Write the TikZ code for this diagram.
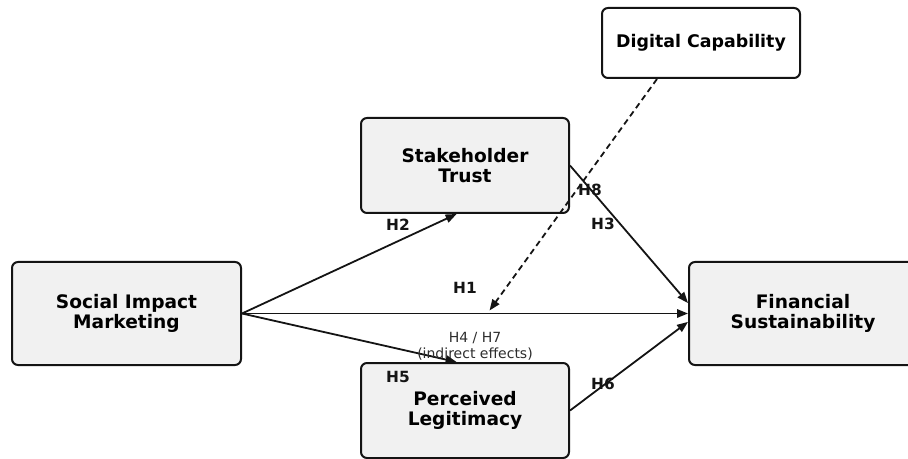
\documentclass[tikz,border=0pt]{standalone}
\usepackage{fontspec}
\setmainfont{DejaVu Sans}
\usetikzlibrary{arrows.meta,calc}
\definecolor{ModelInk}{RGB}{20,20,20}
\definecolor{ModelFill}{RGB}{241,241,241}
\definecolor{ModelNote}{RGB}{45,45,45}
\tikzset{
  construto/.style={draw=ModelInk, fill=ModelFill, rounded corners=3pt, line width=1pt,
                align=center, font=\fontsize{9.3}{10.2}\selectfont\bfseries, inner sep=2pt},
  moderador/.style={construto, fill=white, font=\fontsize{8.7}{10}\selectfont\bfseries},
  caminho/.style={-{Triangle[length=5.5pt, width=4.2pt]}, line width=0.9pt, ModelInk},
  caminhomod/.style={caminho, dash pattern=on 3pt off 2pt},
  hipotese/.style={font=\fontsize{7.7}{8}\selectfont\bfseries, text=ModelInk, inner sep=0pt},
  nota/.style={font=\fontsize{7}{8}\selectfont, text=ModelNote, align=center, inner sep=0pt},
}
\begin{document}
\begin{tikzpicture}[x=0.5pt, y=-0.5pt]
  \path[use as bounding box, clip] (0,0) rectangle (908,459);

  % ------------------------------------------------------------------ constructs
  \node[construto, minimum width=114.5pt, minimum height=51.5pt] (sim) at (126.5,313.5)
    {Social Impact\\Marketing};
  \node[construto, minimum width=104pt, minimum height=47.5pt] (st) at (465,165.5)
    {Stakeholder\\Trust};
  \node[construto, minimum width=104pt, minimum height=47.5pt] (pl) at (465,410.5)
    {Perceived\\Legitimacy};
  \node[construto, minimum width=114pt, minimum height=51.5pt] (fs) at (803,313.5)
    {Financial\\Sustainability};
  \node[moderador, minimum width=99pt, minimum height=35pt] (dc) at (701,43)
    {Digital Capability};

  % anchor points on the box edges
  \coordinate (sttip)  at ($(st.south west)!0.46!(st.south east)$);
  \coordinate (pltip)  at ($(pl.north west)!0.46!(pl.north east)$);
  \coordinate (fsup)   at ($(fs.north west)!0.40!(fs.south west)$);
  \coordinate (fsdown) at ($(fs.north west)!0.58!(fs.south west)$);
  \coordinate (dcfoot) at ($(dc.south west)!0.28!(dc.south east)$);
  \coordinate (h1mid)  at ($($(sim.east)!0.555!(fs.west)$)+(0,-3)$);

  % ------------------------------------------------------------------ paths
  \draw[caminho] (sim.east) -- (sttip);
  \draw[caminho] (sim.east) -- (pltip);
  \draw[caminho] (sim.east) -- (fs.west);
  \draw[caminho] (st.east) -- (fsup);
  \draw[caminho] (pl.east) -- (fsdown);
  \draw[caminhomod] (dcfoot) -- (h1mid);

  % ------------------------------------------------------------------ labels
  \node[hipotese] (lh2) at (398,225) {H2};
  \node[hipotese] (lh5) at (398,377) {H5};
  \node[hipotese] (lh1) at (465,288) {H1};
  \node[hipotese] (lh3) at (603,224) {H3};
  \node[hipotese] (lh6) at (603,384) {H6};
  \node[hipotese] (lh8) at (590,190) {H8};
  \node[nota] (lind) at (475,346) {H4 / H7\\(indirect effects)};
\end{tikzpicture}
\end{document}
